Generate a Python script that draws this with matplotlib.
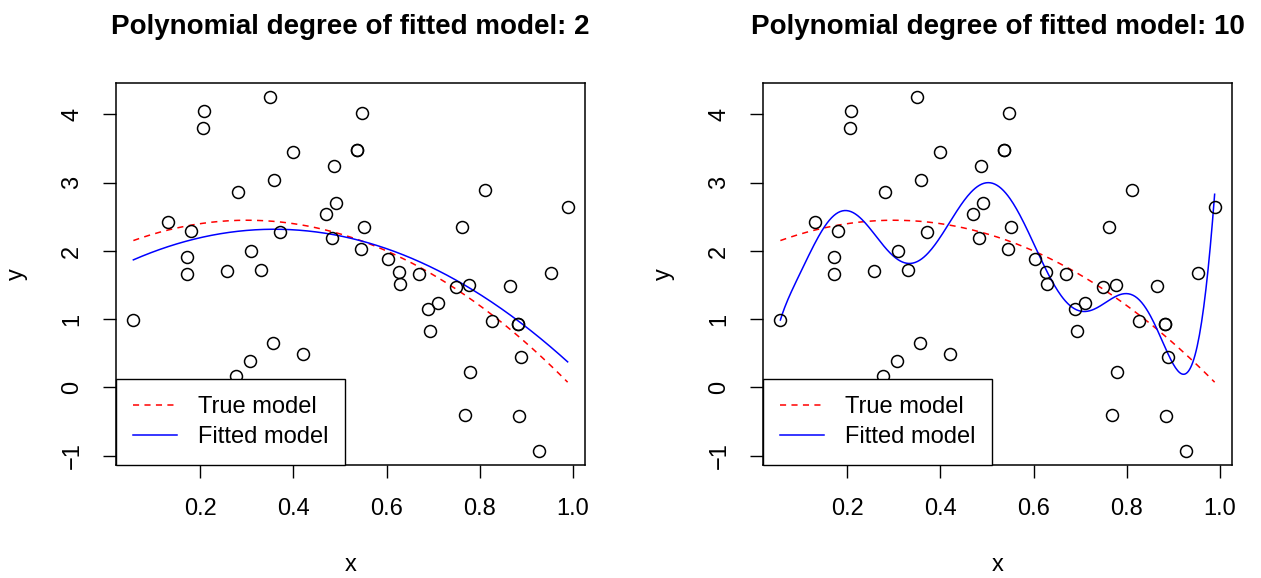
import numpy as np
import matplotlib
matplotlib.use("Agg")
import matplotlib.pyplot as plt
from matplotlib.lines import Line2D

plt.rcParams['font.family'] = ['Liberation Sans', 'DejaVu Sans']

x_obs = [0.349, 0.208, 0.205, 0.398, 0.488, 0.359, 0.280, 0.491, 0.469, 0.131,
         0.180, 0.370, 0.483, 0.171, 0.308, 0.171, 0.257, 0.331, 0.056, 0.357,
         0.307, 0.420, 0.277, 0.548, 0.537, 0.537, 0.812, 0.989, 0.552, 0.762,
         0.546, 0.603, 0.626, 0.629, 0.669, 0.953, 0.749, 0.777, 0.865, 0.711,
         0.690, 0.694, 0.827, 0.882, 0.882, 0.889, 0.780, 0.769, 0.884, 0.928]
y_obs = [4.254, 4.045, 3.797, 3.456, 3.241, 3.047, 2.857, 2.705, 2.544, 2.423,
         2.295, 2.276, 2.184, 1.911, 1.999, 1.662, 1.711, 1.721, 0.985, 0.649,
         0.386, 0.488, 0.167, 4.026, 3.475, 3.480, 2.890, 2.646, 2.354, 2.345,
         2.028, 1.886, 1.687, 1.520, 1.658, 1.681, 1.477, 1.501, 1.482, 1.234,
         1.155, 0.824, 0.980, 0.931, 0.935, 0.444, 0.225, -0.404, -0.424, -0.930]

# true model y = 2 + 3x - 5x^2 (lowest order first)
true_coef = [2.0, 3.0, -5.0]
degrees = [2, 10]

x_obs = np.array(x_obs)
y_obs = np.array(y_obs)
grid = np.linspace(x_obs.min(), x_obs.max(), 400)
y_true = np.polynomial.polynomial.polyval(grid, true_coef)

fig = plt.figure(figsize=(12.61, 5.78), dpi=100)
lefts = [116 / 1261, 763 / 1261]
for left, deg in zip(lefts, degrees):
    ax = fig.add_axes([left, 1 - 465 / 578, 469 / 1261, 382 / 578])
    fit = np.polynomial.Polynomial.fit(x_obs, y_obs, deg)

    ax.plot(x_obs, y_obs, 'o', mfc='none', mec='black', ms=8.6, mew=1.1, zorder=3)
    ax.plot(grid, y_true, '--', color='red', lw=1.1, dashes=(4, 3.5))
    ax.plot(grid, fit(grid), '-', color='blue', lw=1.1)

    xr = x_obs.max() - x_obs.min()
    yr = y_obs.max() - y_obs.min()
    ax.set_xlim(x_obs.min() - 0.04 * xr, x_obs.max() + 0.04 * xr)
    ax.set_ylim(y_obs.min() - 0.04 * yr, y_obs.max() + 0.04 * yr)

    ax.set_xticks([0.2, 0.4, 0.6, 0.8, 1.0])
    ax.set_xticklabels(['0.2', '0.4', '0.6', '0.8', '1.0'])
    ax.set_yticks([-1, 0, 1, 2, 3, 4])
    ax.set_yticklabels(['\u22121', '0', '1', '2', '3', '4'], rotation=90, va='center')
    ax.tick_params(direction='out', length=9.5, width=1, labelsize=17, pad=14)
    for s in ax.spines.values():
        s.set_linewidth(1.1)

    ax.set_xlabel('x', fontsize=17, labelpad=25)
    ax.set_ylabel('y', fontsize=17, labelpad=24)
    ax.set_title(f'Polynomial degree of fitted model: {deg}', fontsize=20,
                 fontweight='bold', pad=35)

    handles = [Line2D([], [], ls='--', color='red', lw=1.1, dashes=(4, 3.5)),
               Line2D([], [], ls='-', color='blue', lw=1.1)]
    leg = ax.legend(handles, ['True model', 'Fitted model'], loc='lower left',
                    bbox_to_anchor=(0, 0), borderaxespad=0, fancybox=False,
                    edgecolor='black', framealpha=1, fontsize=17,
                    handlelength=1.85, handletextpad=0.9, borderpad=0.72,
                    labelspacing=0.32)
    leg.get_frame().set_linewidth(1.0)

fig.savefig('out.png', dpi=100)
